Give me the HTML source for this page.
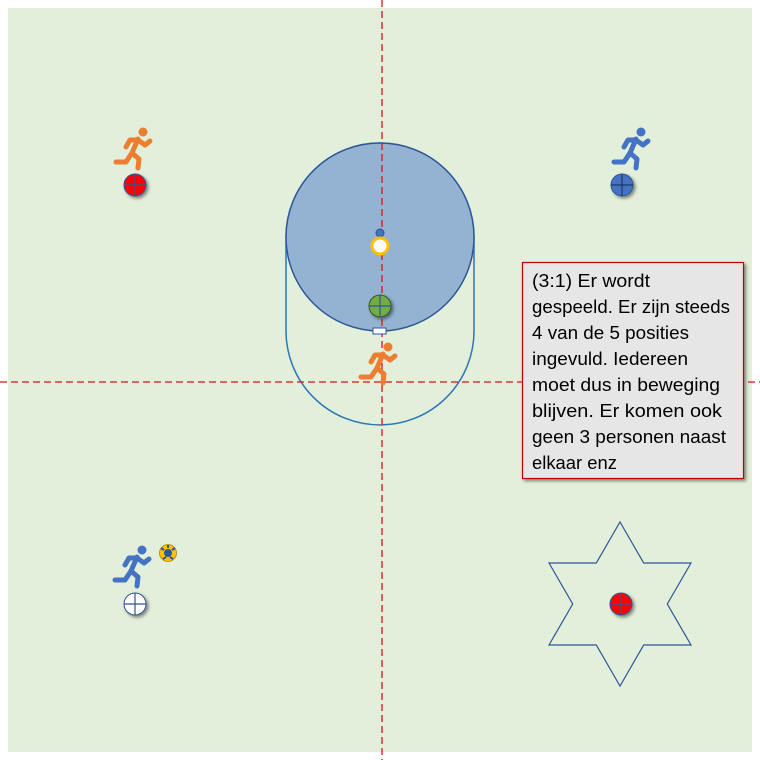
<!DOCTYPE html>
<html><head><meta charset="utf-8"><style>
html,body{margin:0;padding:0;background:#fff}
svg{display:block}
</style></head><body>
<svg width="760" height="760" viewBox="0 0 760 760" xmlns="http://www.w3.org/2000/svg">
<defs>
<g id="run" fill="none" stroke-linecap="round" stroke-linejoin="round" stroke-width="5">
 <path d="M23,12 L17,26 M23,13 L30,18 L35,14 M22,13 L15,13 L11,20 M17,26 L24,32 L23,41 M17,26 L11,35 L1,35"/>
</g>
<filter id="sh" x="-50%" y="-50%" width="200%" height="200%"><feDropShadow dx="2" dy="2" stdDeviation="1.5" flood-color="#000" flood-opacity="0.45"/></filter>
</defs>
<rect x="8" y="8" width="744" height="744" fill="#e2efda"/>
<path d="M286,237 A94,94 0 0 1 474,237 L474,331 A94,94 0 0 1 286,331 Z" fill="none" stroke="#2e75b6" stroke-width="1.5"/>
<circle cx="380" cy="237" r="94" fill="#94b3d3" stroke="#2f5597" stroke-width="1.5"/>
<line x1="382" y1="0" x2="382" y2="760" stroke="#d01818" stroke-width="1.3" stroke-dasharray="7,4"/>
<line x1="0" y1="382" x2="760" y2="382" stroke="#d01818" stroke-width="1.3" stroke-dasharray="7,4"/>
<circle cx="380" cy="233" r="4" fill="#4472c4" stroke="#2f5597"/>
<circle cx="380" cy="246" r="8" fill="#fff" stroke="#ffc000" stroke-width="3"/>
<g filter="url(#sh)"><circle cx="380" cy="306" r="11" fill="#70ad47" stroke="#385723"/></g>
<path d="M369,306 H391 M380,295 V317" stroke="#2f5597" stroke-width="1.2"/>
<rect x="373" y="328" width="13" height="6" fill="#fff" stroke="#2f5597"/>
<g transform="translate(115,127)" stroke="#ed7d31"><use href="#run"/><circle cx="28" cy="5" r="4.5" fill="#ed7d31" stroke="none"/></g>
<g transform="translate(613,127)" stroke="#4472c4"><use href="#run"/><circle cx="28" cy="5" r="4.5" fill="#4472c4" stroke="none"/></g>
<g transform="translate(114,545)" stroke="#4472c4"><use href="#run"/><circle cx="28" cy="5" r="4.5" fill="#4472c4" stroke="none"/></g>
<g transform="translate(360,342)" stroke="#ed7d31"><use href="#run"/><circle cx="28" cy="5" r="4.5" fill="#ed7d31" stroke="none"/></g>
<g filter="url(#sh)"><circle cx="135" cy="185" r="11" fill="#ff0000" stroke="#2f5597"/></g>
<path d="M124,185 H146 M135,174 V196" stroke="#2f5597" stroke-width="1.2"/>
<g filter="url(#sh)"><circle cx="622" cy="185" r="11" fill="#4472c4" stroke="#2f5597"/></g>
<path d="M611,185 H633 M622,174 V196" stroke="#203864" stroke-width="1.2"/>
<g filter="url(#sh)"><circle cx="135" cy="604" r="11" fill="#fff" stroke="#2f5597"/></g>
<path d="M124,604 H146 M135,593 V615" stroke="#2f5597" stroke-width="1.2"/>
<circle cx="168" cy="553" r="8.5" fill="#ffc000" stroke="#b08000" stroke-width="0.8"/>
<circle cx="168" cy="553" r="4" fill="#2f5597"/>
<path d="M161,548 l3,2 M175,548 l-3,2 M168,545 v3 M163,559 l3,-2 M173,559 l-3,-2" stroke="#2f5597" stroke-width="2"/>
<path d="M620,522 L643.7,563 L691,563 L667.3,604 L691,645 L643.7,645 L620,686 L596.3,645 L549,645 L572.7,604 L549,563 L596.3,563 Z" fill="none" stroke="#2f5597" stroke-width="1.2"/>
<g filter="url(#sh)"><circle cx="621" cy="604" r="11" fill="#ff0000" stroke="#2f5597"/></g>
<path d="M610,604 H632 M621,593 V615" stroke="#2f5597" stroke-width="1.2"/>
<g filter="url(#sh)"><rect x="522.5" y="262.5" width="221" height="216" fill="#e7e6e6" stroke="#c00000" stroke-width="1.2"/></g>
<g font-family="Liberation Sans, sans-serif" font-size="18.5" fill="#000">
<text x="532" y="287" textLength="118" lengthAdjust="spacingAndGlyphs">(3:1) Er wordt</text>
<text x="532" y="313" textLength="198" lengthAdjust="spacingAndGlyphs">gespeeld. Er zijn steeds</text>
<text x="532" y="339" textLength="157" lengthAdjust="spacingAndGlyphs">4 van de 5 posities</text>
<text x="532" y="365" textLength="156" lengthAdjust="spacingAndGlyphs">ingevuld. Iedereen</text>
<text x="532" y="391" textLength="188" lengthAdjust="spacingAndGlyphs">moet dus in beweging</text>
<text x="532" y="417" textLength="190" lengthAdjust="spacingAndGlyphs">blijven.  Er komen ook</text>
<text x="532" y="443" textLength="194" lengthAdjust="spacingAndGlyphs">geen 3 personen naast</text>
<text x="532" y="469" textLength="85" lengthAdjust="spacingAndGlyphs">elkaar enz</text>
</g>
</svg>
</body></html>
